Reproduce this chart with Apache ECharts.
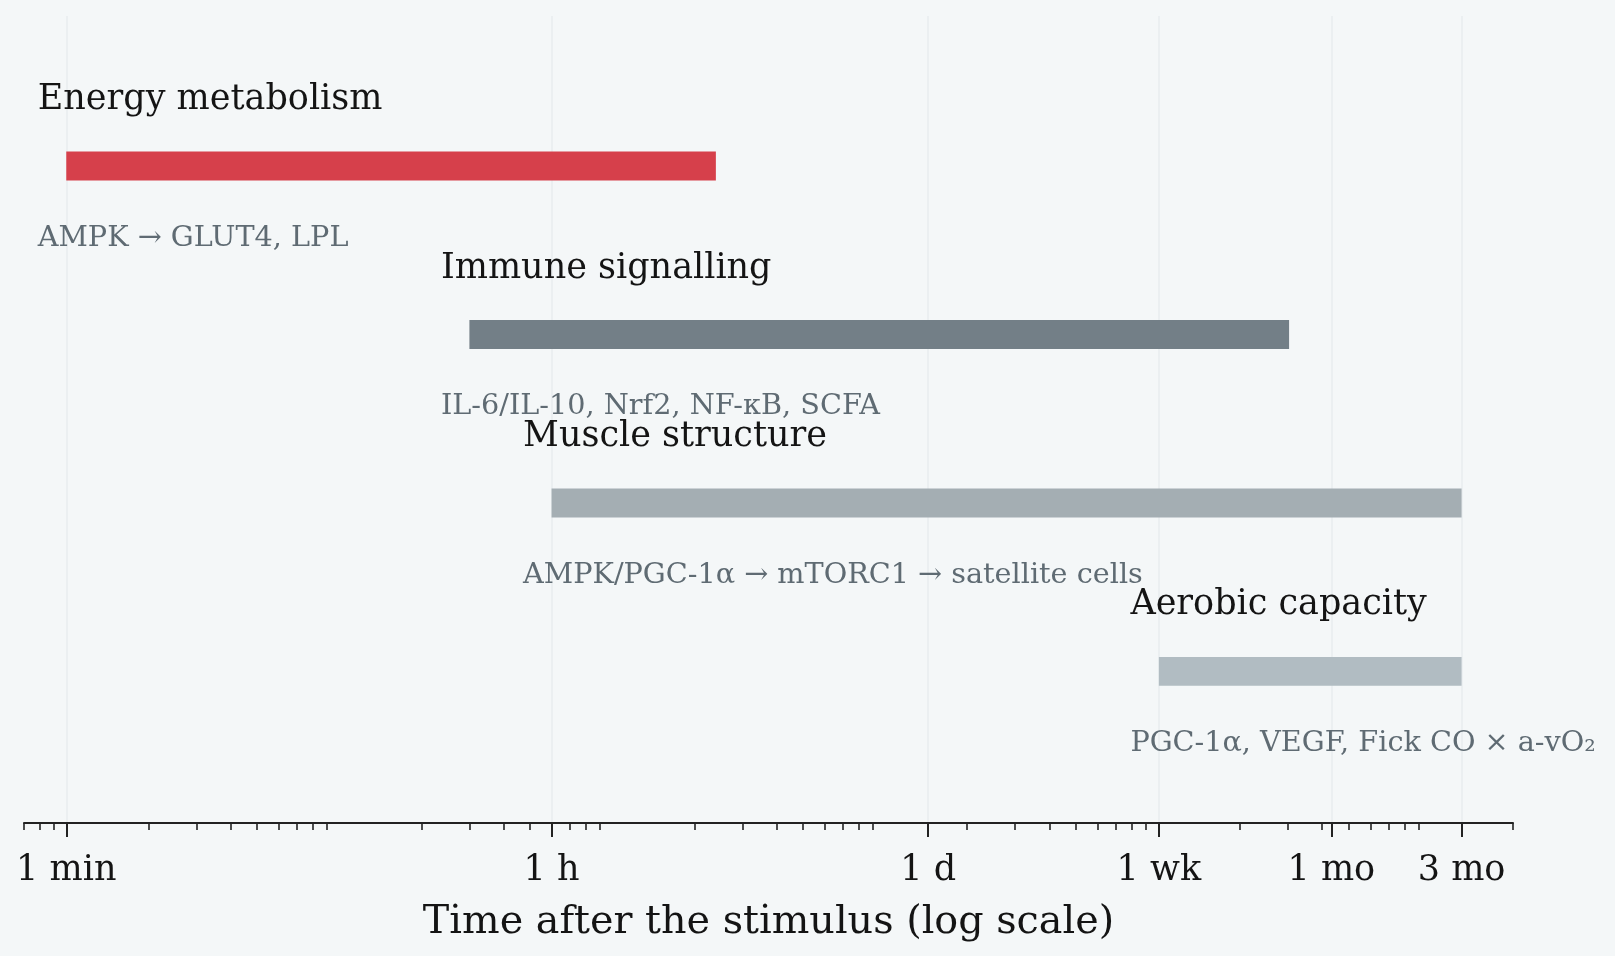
<!DOCTYPE html>
<html>
<head>
<meta charset="utf-8">
<title>Time after the stimulus</title>
<script src="https://cdn.jsdelivr.net/npm/echarts@6/dist/echarts.min.js"></script>
<style>
  html, body { margin: 0; padding: 0; background: #f4f7f8; }
  #chart { width: 1615px; height: 956px; }
</style>
</head>
<body>
<div id="chart"></div>
<script>
// processes, top to bottom
const categories = ['Energy metabolism', 'Immune signalling', 'Muscle structure', 'Aerobic capacity']
const details = [
  'AMPK → GLUT4, LPL',
  'IL-6/IL-10, Nrf2, NF-κB, SCFA',
  'AMPK/PGC-1α → mTORC1 → satellite cells',
  'PGC-1α, VEGF, Fick CO × a-vO₂'
]
// time window in minutes after the stimulus
const startMin = [1, 30, 60, 10080]
const endMin = [240, 30240, 129600, 129600]

// axis ticks (minutes)
const tickValues = [1, 60, 1440, 10080, 43200, 129600]
const tickLabels = ['1 min', '1 h', '1 d', '1 wk', '1 mo', '3 mo']

const barColors = ['#d6404b', '#737f87', '#a4aeb3', '#b1bcc2']
const FONT = '"DejaVu Serif", serif'

// log minor ticks 2..9 x 10^n (no tick at the powers of ten)
const minorTicks = []
for (let n = -1; n <= 5; n++) {
  for (let k = 2; k <= 9; k++) minorTicks.push(k * Math.pow(10, n))
}

const rows = categories.map((name, i) => [startMin[i], endMin[i], i])

const option = {
  backgroundColor: '#f4f7f8',
  animation: false,
  grid: {
    left: 24,
    right: 102,
    top: 16,
    bottom: 133
  },
  xAxis: [
    {
      type: 'log',
      logBase: 10,
      min: 0.7,
      max: 200000,
      position: 'bottom',
      name: 'Time after the stimulus (log scale)',
      nameLocation: 'middle',
      nameGap: 80,
      nameTextStyle: { fontFamily: FONT, fontSize: 39.7, color: '#141414' },
      axisLine: { show: true, onZero: false, lineStyle: { color: '#222', width: 2 } },
      axisTick: { show: true, customValues: tickValues, length: 14, lineStyle: { color: '#222', width: 2 } },
      axisLabel: {
        customValues: tickValues,
        margin: 30,
        fontFamily: FONT,
        fontSize: 35,
        color: '#141414',
        formatter: (v) => {
          const i = tickValues.findIndex(t => Math.abs(t - v) / t < 1e-6)
          return i >= 0 ? tickLabels[i] : ''
        }
      },
      splitLine: { show: true, lineStyle: { color: '#e9edef', width: 1.5 } },
      minorTick: { show: false },
      minorSplitLine: { show: false }
    },
    {
      // minor ticks only
      type: 'log',
      logBase: 10,
      min: 0.7,
      max: 200000,
      position: 'bottom',
      axisLine: { show: false, onZero: false },
      axisTick: { show: true, customValues: minorTicks, length: 7, lineStyle: { color: '#222', width: 1.6 } },
      axisLabel: { show: false },
      splitLine: { show: false }
    }
  ],
  yAxis: {
    type: 'value',
    min: -0.89,
    max: 3.9,
    inverse: true,
    show: false,
    splitLine: { show: false }
  },
  series: [
    {
      type: 'custom',
      xAxisIndex: 0,
      data: rows,
      encode: { x: [0, 1], y: 2 },
      renderItem: (params, api) => {
        const i = api.value(2)
        const p0 = api.coord([api.value(0), i])
        const p1 = api.coord([api.value(1), i])
        const h = api.size([0, 0.172])[1]
        return {
          type: 'group',
          children: [
            {
              type: 'rect',
              shape: { x: p0[0], y: p0[1] - h / 2, width: p1[0] - p0[0], height: h },
              style: { fill: barColors[i] }
            },
            {
              type: 'text',
              x: p0[0] - 28.5,
              y: p0[1] - 66,
              style: {
                text: categories[i],
                fontFamily: FONT,
                fontSize: 35,
                fill: '#141414',
                align: 'left',
                verticalAlign: 'middle'
              }
            },
            {
              type: 'text',
              x: p0[0] - 28.5,
              y: p0[1] + 72.5,
              style: {
                text: details[i],
                fontFamily: FONT,
                fontSize: 28.7,
                fill: '#5f6b73',
                align: 'left',
                verticalAlign: 'middle'
              }
            }
          ]
        }
      }
    }
  ]
}

const myChart = echarts.init(document.getElementById('chart'))
myChart.setOption(option, true)
window.addEventListener('resize', () => {
  myChart.resize()
})
</script>
</body>
</html>
